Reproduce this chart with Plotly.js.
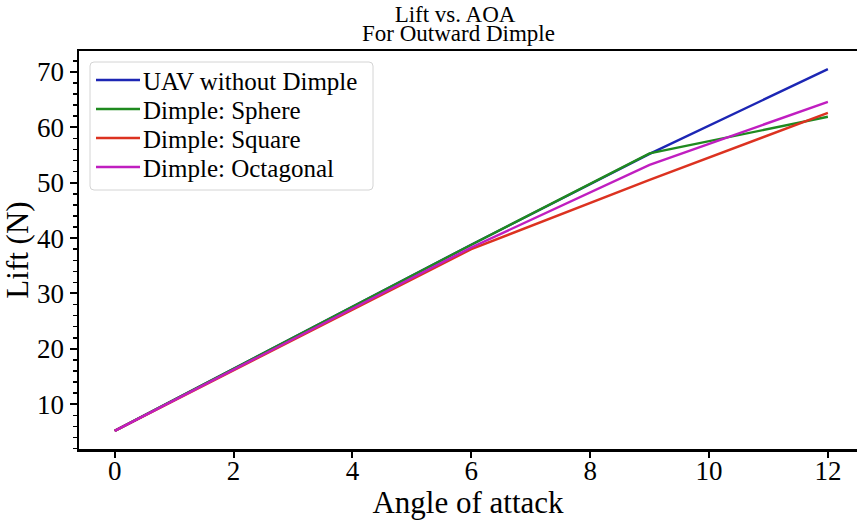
<!DOCTYPE html>
<html>
<head>
<meta charset="utf-8">
<script src="https://cdn.plot.ly/plotly-3.0.1.min.js"></script>
<style>
  html, body { margin: 0; padding: 0; background: #ffffff; overflow: hidden; }
  #chart { width: 857px; height: 520px; }
</style>
</head>
<body>
<div id="chart"></div>
<script>
// Angle of attack (degrees)
const aoa = [0, 6, 9, 12];

// Lift (N) for each configuration
const liftNoDimple = [5.2, 38.8, 55.2, 70.5];
const liftSphere = [5.2, 38.8, 55.3, 61.9];
const liftSquare = [5.2, 38.0, 50.5, 62.6];
const liftOctagonal = [5.2, 38.3, 53.2, 64.6];

const seriesNames = ['UAV without Dimple', 'Dimple: Sphere', 'Dimple: Square', 'Dimple: Octagonal'];
const seriesColors = ['#1c26b4', '#1f8a1f', '#dc3220', '#c01ec0'];
const seriesValues = [liftNoDimple, liftSphere, liftSquare, liftOctagonal];

const xTicks = [0, 2, 4, 6, 8, 10, 12];
const yTicks = [10, 20, 30, 40, 50, 60, 70];

const serif = 'Liberation Serif, Times New Roman, serif';

// plot area in pixels
const M = { l: 79, r: 0, t: 51, b: 71 };
const W = 857 - M.l - M.r;
const H = 520 - M.t - M.b;
const px = p => (p - M.l) / W;        // page x -> paper x
const py = p => 1 - (p - M.t) / H;    // page y -> paper y

const traces = seriesValues.map((vals, i) => ({
  x: aoa,
  y: vals,
  type: 'scatter',
  mode: 'lines',
  name: seriesNames[i],
  line: { color: seriesColors[i], width: 2.4 }
}));

// legend frame (rounded box, upper left)
const box = { x0: 90, x1: 373, y0: 62, y1: 190, r: 4 };
const rx = box.r / W, ry = box.r / H;
const bx0 = px(box.x0), bx1 = px(box.x1), by0 = py(box.y1), by1 = py(box.y0);
const framePath =
  `M ${bx0 + rx},${by0} L ${bx1 - rx},${by0} Q ${bx1},${by0} ${bx1},${by0 + ry} ` +
  `L ${bx1},${by1 - ry} Q ${bx1},${by1} ${bx1 - rx},${by1} ` +
  `L ${bx0 + rx},${by1} Q ${bx0},${by1} ${bx0},${by1 - ry} ` +
  `L ${bx0},${by0 + ry} Q ${bx0},${by0} ${bx0 + rx},${by0} Z`;

const shapes = [{
  type: 'path', xref: 'paper', yref: 'paper', path: framePath,
  fillcolor: 'rgba(255,255,255,0.8)', line: { color: '#d4d4d4', width: 1 }, layer: 'above'
}];
const annotations = [{
  text: 'For Outward Dimple',
  xref: 'paper', yref: 'paper',
  x: px(458), y: 1, xanchor: 'center', yanchor: 'bottom',
  yshift: 3,
  showarrow: false,
  font: { family: serif, size: 23, color: '#000000' }
}];

const rowY = [80, 109, 138, 167];
seriesNames.forEach((name, i) => {
  shapes.push({
    type: 'line', xref: 'paper', yref: 'paper',
    x0: px(96), x1: px(140), y0: py(rowY[i]), y1: py(rowY[i]),
    line: { color: seriesColors[i], width: 2.4 }, layer: 'above'
  });
  annotations.push({
    text: name, xref: 'paper', yref: 'paper',
    x: px(141), y: py(rowY[i] + 1), xanchor: 'left', yanchor: 'middle',
    showarrow: false,
    font: { family: serif, size: 25, color: '#000000' }
  });
});

const layout = {
  width: 857,
  height: 520,
  margin: M,
  paper_bgcolor: '#ffffff',
  plot_bgcolor: '#ffffff',
  font: { family: serif, color: '#000000' },
  showlegend: false,
  title: {
    text: 'Lift vs. AOA',
    font: { family: serif, size: 23, color: '#000000' },
    xref: 'container', x: 455 / 857, xanchor: 'center',
    yref: 'container', y: 1 - 22 / 520, yanchor: 'bottom'
  },
  shapes: shapes,
  annotations: annotations,
  xaxis: {
    range: [-0.6, 12.49],
    tickmode: 'array',
    tickvals: xTicks,
    ticktext: xTicks.map(String),
    ticks: 'outside', ticklen: 6, tickwidth: 2, tickcolor: '#000000',
    ticklabelstandoff: -10,
    showline: true, linewidth: 2.5, linecolor: '#000000', mirror: true,
    showgrid: false, zeroline: false,
    tickfont: { family: serif, size: 27, color: '#000000' },
    title: { text: 'Angle of attack', font: { family: serif, size: 31, color: '#000000' }, standoff: 2 }
  },
  yaxis: {
    range: [1.93, 73.77],
    tickmode: 'array',
    tickvals: yTicks,
    ticktext: yTicks.map(String),
    ticks: 'outside', ticklen: 7, tickwidth: 2, tickcolor: '#000000',
    minor: { dtick: 2, ticks: 'outside', ticklen: 4, tickwidth: 1.5, tickcolor: '#000000', showgrid: false },
    showline: true, linewidth: 2.5, linecolor: '#000000', mirror: false,
    showgrid: false, zeroline: false,
    tickfont: { family: serif, size: 27, color: '#000000' },
    title: { text: 'Lift (N)', font: { family: serif, size: 31, color: '#000000' }, standoff: 4 }
  }
};

Plotly.newPlot('chart', traces, layout, { staticPlot: true, displayModeBar: false });
</script>
</body>
</html>
